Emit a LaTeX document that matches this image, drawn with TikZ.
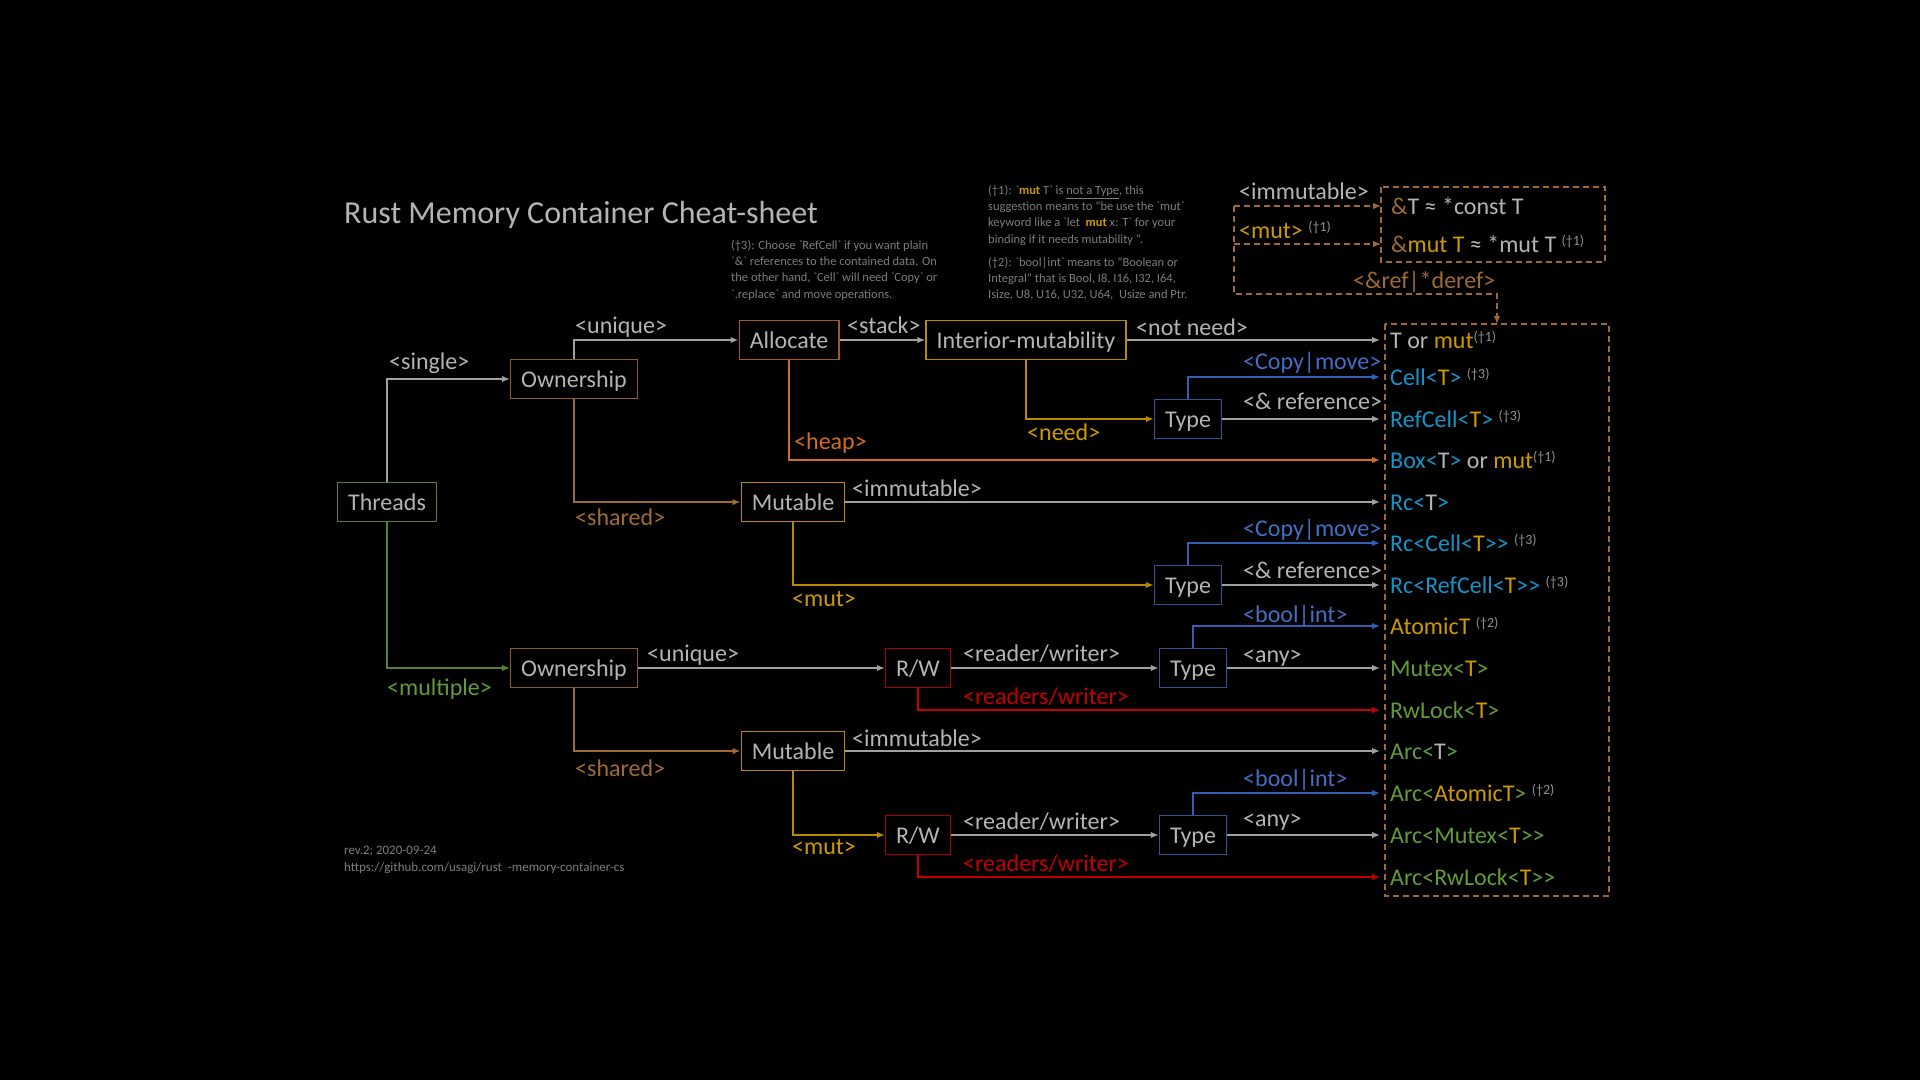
\documentclass[tikz,border=0pt]{standalone}
\usepackage{fontspec}
\setmainfont{Carlito}
\usetikzlibrary{positioning,arrows.meta,calc}
\definecolor{BgBlack}{RGB}{0,0,0}
\definecolor{TxtGray}{RGB}{180,180,180}
\definecolor{LineGray}{RGB}{160,160,160}
\definecolor{NoteGray}{RGB}{125,125,125}
\definecolor{SupGray}{RGB}{145,145,145}
\definecolor{OwnBrown}{RGB}{140,92,45}
\definecolor{AllocBrown}{RGB}{168,88,30}
\definecolor{ShareBrown}{RGB}{160,106,52}
\definecolor{HeapOrange}{RGB}{210,108,35}
\definecolor{Gold}{RGB}{185,138,0}
\definecolor{GoldTxt}{RGB}{205,155,0}
\definecolor{TypeBlue}{RGB}{47,85,151}
\definecolor{LineBlue}{RGB}{50,95,180}
\definecolor{LblBlue}{RGB}{68,110,195}
\definecolor{CellCyan}{RGB}{20,148,200}
\definecolor{ThrGreen}{RGB}{84,130,53}
\definecolor{TxtGreen}{RGB}{98,155,58}
\definecolor{RwRed}{RGB}{165,0,0}
\definecolor{LblRed}{RGB}{195,0,0}
\newcommand{\gld}[1]{\textcolor{GoldTxt}{#1}}
\newcommand{\cyn}[1]{\textcolor{CellCyan}{#1}}
\newcommand{\grn}[1]{\textcolor{TxtGreen}{#1}}
\newcommand{\dg}[1]{\raisebox{7pt}{\fontsize{14}{14}\selectfont\textcolor{SupGray}{(†#1)}}}
\newcommand{\bq}{\textasciigrave}
\newcommand{\gtgt}{>\kern0pt>}

\begin{document}
\begin{tikzpicture}[x=1pt,y=-1pt,
  font=\fontsize{24}{28}\selectfont,
  cbox/.style={rectangle,draw,line width=1.5pt,inner xsep=10.5pt,inner ysep=4pt,minimum height=39pt,
    text height=22pt,text depth=5pt,text=TxtGray},
  lbl/.style={anchor=west,inner sep=0pt,text height=22pt,text depth=5pt,text=TxtGray},
  rowtxt/.style={anchor=west,inner xsep=10pt,inner ysep=0pt,text height=22pt,text depth=5pt,text=TxtGray},
  conn/.style={line width=1.5pt,draw=LineGray,-{Latex[length=8pt,width=6.5pt]}},
  dashln/.style={line width=1.3pt,draw=ShareBrown,dash pattern=on 6pt off 4pt},
  notetxt/.style={anchor=north west,inner sep=0pt,align=left,text=NoteGray,
    font=\fontsize{12.5}{16.3}\selectfont}]
  \useasboundingbox (0,0) rectangle (1920,1080);
  \fill[BgBlack] (0,0) rectangle (1920,1080);

  % title and notes
  \node[lbl,font=\fontsize{32}{38}\selectfont,text height=22pt,text depth=7pt] (title) at (344,216) {Rust Memory Container Cheat-sheet};
  \node[notetxt] (note3) at (731,240) {(†3): Choose \bq RefCell\bq{} if you want plain\\
    \bq\&\bq{} references to the contained data. On\\
    the other hand, \bq Cell\bq{} will need \bq Copy\bq{} or\\
    \bq .replace\bq{} and move operations.};
  \node[notetxt] (note1) at (988,185) {(†1): \bq\textbf{\gld{mut}} T\bq{} is \underline{not a Type}, this\\
    suggestion means to “be use the \bq mut\bq\\
    keyword like a \bq let\ \ \textbf{\gld{mut}} x: T\bq{} for your\\
    binding if it needs mutability ”.};
  \node[notetxt] (note2) at (988,257) {(†2): \bq bool|int\bq{} means to “Boolean or\\
    Integral” that is Bool, I8, I16, I32, I64,\\
    Isize, U8, U16, U32, U64,\ \ Usize and Ptr.};
  \node[notetxt,font=\fontsize{13}{17}\selectfont] (rev) at (344,846) {rev.2; 2020-09-24\\
    https://github.com/usagi/rust\ \ -memory-container-cs};

  % decision boxes
  \node[cbox,draw=ThrGreen] (thr) at (387,502) {Threads};
  \node[cbox,draw=OwnBrown] (own1) at (574,379) {Ownership};
  \node[cbox,draw=AllocBrown] (alloc) at (789,340) {Allocate};
  \node[cbox,draw=Gold] (im) at (1026,340) {Interior-mutability};
  \node[cbox,draw=TypeBlue] (type1) at (1188,419) {Type};
  \node[cbox,draw=Gold] (mut1) at (793,502) {Mutable};
  \node[cbox,draw=TypeBlue] (type2) at (1188,585) {Type};
  \node[cbox,draw=OwnBrown] (own2) at (574,668) {Ownership};
  \node[cbox,draw=RwRed] (rw1) at (918,668) {R/W};
  \node[cbox,draw=TypeBlue] (type3) at (1193,668) {Type};
  \node[cbox,draw=Gold] (mut2) at (793,751) {Mutable};
  \node[cbox,draw=RwRed] (rw2) at (918,835) {R/W};
  \node[cbox,draw=TypeBlue] (type4) at (1193,835) {Type};

  % resulting types
  \node[rowtxt] (tor) at (1380,340) {T or \gld{mut}\dg{1}};
  \node[rowtxt] (cell) at (1380,377) {\cyn{Cell<}\gld{T}\cyn{>} \dg{3}};
  \node[rowtxt] (refcell) at (1380,419) {\cyn{RefCell<}\gld{T}\cyn{>} \dg{3}};
  \node[rowtxt] (box) at (1380,460) {\cyn{Box<}T\cyn{>} or \gld{mut}\dg{1}};
  \node[rowtxt] (rc) at (1380,502) {\cyn{Rc<}T\cyn{>}};
  \node[rowtxt] (rccell) at (1380,543) {\cyn{Rc<Cell<}\gld{T}\cyn{\gtgt} \dg{3}};
  \node[rowtxt] (rcrefcell) at (1380,585) {\cyn{Rc<RefCell<}\gld{T}\cyn{\gtgt} \dg{3}};
  \node[rowtxt] (atomic) at (1380,626) {\gld{AtomicT} \dg{2}};
  \node[rowtxt] (mutex) at (1380,668) {\grn{Mutex<}\gld{T}\grn{>}};
  \node[rowtxt] (rwlock) at (1380,710) {\grn{RwLock<}\gld{T}\grn{>}};
  \node[rowtxt] (arc) at (1380,751) {\grn{Arc<}T\grn{>}};
  \node[rowtxt] (arcatomic) at (1380,793) {\grn{Arc<}\gld{AtomicT}\grn{>} \dg{2}};
  \node[rowtxt] (arcmutex) at (1380,835) {\grn{Arc<Mutex<}\gld{T}\grn{\gtgt}};
  \node[rowtxt] (arcrwlock) at (1380,877) {\grn{Arc<RwLock<}\gld{T}\grn{\gtgt}};
  \draw[dashln] (1385,324) rectangle (1609,896);

  % reference / pointer box
  \node[rowtxt] (rT) at (1381,206) {\textcolor{ShareBrown}{\&}T ≈ *const T};
  \node[rowtxt] (rmutT) at (1381,244) {\textcolor{ShareBrown}{\&}\gld{mut T} ≈ *mut T \dg{1}};
  \draw[dashln] (1381,187) rectangle (1605,262);
  \coordinate (brkt) at (1234,206);
  \coordinate (brkm) at (1234,244);
  \coordinate (brkb) at (1234,294);
  \coordinate (bigtop) at (1497,324);
  \draw[dashln,-{Latex[length=8pt,width=6.5pt]}] (brkt) -- (rT.west);
  \draw[dashln,-{Latex[length=8pt,width=6.5pt]}] (brkm) -- (rmutT.west);
  \draw[dashln,-{Latex[length=8pt,width=6.5pt]}] (brkt) -- (brkb) -| (bigtop);
  \node[lbl] (limmtop) at (1239,191) {<immutable>};
  \node[lbl,text=GoldTxt] (lmuttop) at (1239,230) {<mut> \dg{1}};
  \node[lbl,text=ShareBrown] (lderef) at (1353,280) {<\&ref|*deref>};

  % connectors
  \draw[conn] (thr.north) |- (own1.west);
  \draw[conn] (own1.north) |- (alloc.west);
  \draw[conn,draw=ShareBrown] (own1.south) |- (mut1.west);
  \draw[conn] (alloc) -- (im);
  \draw[conn,draw=HeapOrange] (alloc.south) |- (box.west);
  \draw[conn] (im) -- (tor.west);
  \draw[conn,draw=Gold] (im.south) |- (type1.west);
  \draw[conn,draw=LineBlue] (type1.north) |- (cell.west);
  \draw[conn] (type1) -- (refcell.west);
  \draw[conn] (mut1) -- (rc.west);
  \draw[conn,draw=Gold] (mut1.south) |- (type2.west);
  \draw[conn,draw=LineBlue] (type2.north) |- (rccell.west);
  \draw[conn] (type2) -- (rcrefcell.west);
  \draw[conn,draw=ThrGreen] (thr.south) |- (own2.west);
  \draw[conn] (own2) -- (rw1);
  \draw[conn] (rw1) -- (type3);
  \draw[conn,draw=LblRed] (rw1.south) |- (rwlock.west);
  \draw[conn,draw=LineBlue] (type3.north) |- (atomic.west);
  \draw[conn] (type3) -- (mutex.west);
  \draw[conn,draw=ShareBrown] (own2.south) |- (mut2.west);
  \draw[conn] (mut2) -- (arc.west);
  \draw[conn,draw=Gold] (mut2.south) |- (rw2.west);
  \draw[conn] (rw2) -- (type4);
  \draw[conn,draw=LblRed] (rw2.south) |- (arcrwlock.west);
  \draw[conn,draw=LineBlue] (type4.north) |- (arcatomic.west);
  \draw[conn] (type4) -- (arcmutex.west);

  % connector labels
  \node[lbl] (lsingle) at (389,361) {<single>};
  \node[lbl] (lunique1) at (575,325) {<unique>};
  \node[lbl,text=ShareBrown] (lshared1) at (575,517) {<shared>};
  \node[lbl] (lstack) at (847,325) {<stack>};
  \node[lbl,text=HeapOrange] (lheap) at (794,441) {<heap>};
  \node[lbl] (lnotneed) at (1136,327) {<not need>};
  \node[lbl,text=GoldTxt] (lneed) at (1027,432) {<need>};
  \node[lbl,text=LblBlue] (lcopy1) at (1243,361) {<Copy|move>};
  \node[lbl] (lref1) at (1243,401) {<\& reference>};
  \node[lbl] (limm1) at (852,488) {<immutable>};
  \node[lbl,text=GoldTxt] (lmut1) at (792,598) {<mut>};
  \node[lbl,text=LblBlue] (lcopy2) at (1243,528) {<Copy|move>};
  \node[lbl] (lref2) at (1243,570) {<\& reference>};
  \node[lbl,text=TxtGreen] (lmultiple) at (387,687) {<multiple>};
  \node[lbl] (lunique2) at (647,653) {<unique>};
  \node[lbl] (lrw1) at (963,653) {<reader/writer>};
  \node[lbl,text=LblRed] (lrws1) at (963,696) {<readers/writer>};
  \node[lbl,text=LblBlue] (lbool1) at (1243,614) {<bool|int>};
  \node[lbl] (lany1) at (1243,654) {<any>};
  \node[lbl,text=ShareBrown] (lshared2) at (575,768) {<shared>};
  \node[lbl] (limm2) at (852,738) {<immutable>};
  \node[lbl,text=GoldTxt] (lmut2) at (792,846) {<mut>};
  \node[lbl] (lrw2) at (963,821) {<reader/writer>};
  \node[lbl,text=LblRed] (lrws2) at (963,863) {<readers/writer>};
  \node[lbl,text=LblBlue] (lbool2) at (1243,778) {<bool|int>};
  \node[lbl] (lany2) at (1243,818) {<any>};
\end{tikzpicture}
\end{document}
